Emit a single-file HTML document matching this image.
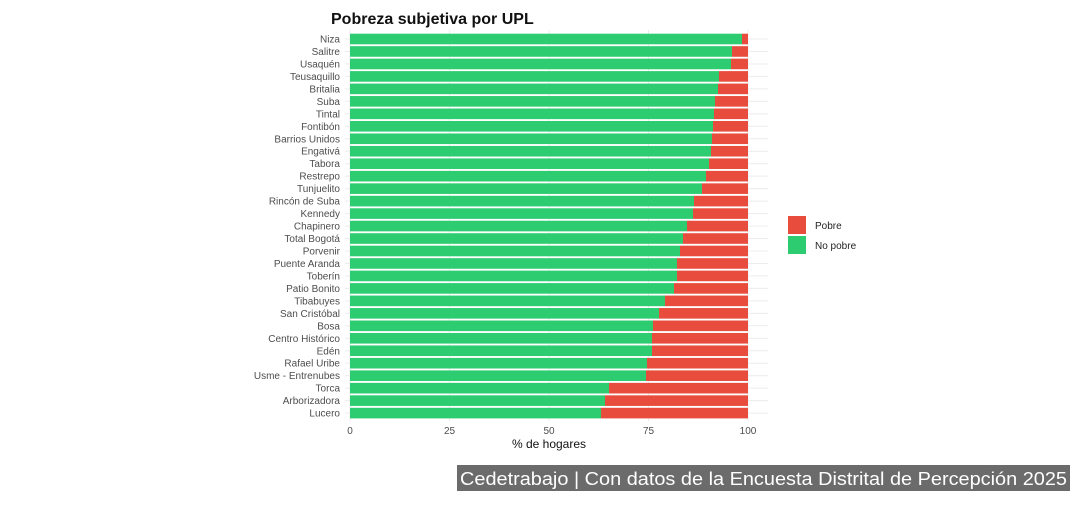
<!DOCTYPE html>
<html><head><meta charset="utf-8"><style>
body{margin:0;background:#fff;width:1080px;height:500px;overflow:hidden;font-family:"Liberation Sans",sans-serif}
</style></head><body>
<svg width="1080" height="500" xmlns="http://www.w3.org/2000/svg" font-family="Liberation Sans, sans-serif">
<text x="331" y="24" font-size="16" font-weight="bold" fill="#111">Pobreza subjetiva por UPL</text>
<g stroke="#ececec" stroke-width="1">
<line x1="350" y1="30" x2="350" y2="421"/><line x1="449.5" y1="30" x2="449.5" y2="421"/><line x1="549" y1="30" x2="549" y2="421"/><line x1="648.5" y1="30" x2="648.5" y2="421"/><line x1="748" y1="30" x2="748" y2="421"/>
</g>
<g id="bars"></g>
<g font-size="10" fill="#4d4d4d" text-anchor="middle">
<text x="350" y="434">0</text><text x="449.5" y="434">25</text><text x="549" y="434">50</text><text x="648.5" y="434">75</text><text x="748" y="434">100</text>
</g>
<text x="549" y="448" font-size="12" fill="#111" text-anchor="middle">% de hogares</text>
<rect x="788" y="216" width="18" height="18" fill="#e74c3c"/>
<rect x="788" y="236" width="18" height="18" fill="#2ecc71"/>
<text x="815" y="229" font-size="10" fill="#222">Pobre</text>
<text x="815" y="249" font-size="10" fill="#222">No pobre</text>
<rect x="457" y="465" width="613" height="26" fill="#6b6b6b"/>
<text x="460" y="485" font-size="18" fill="#fff" textLength="607" lengthAdjust="spacingAndGlyphs">Cedetrabajo | Con datos de la Encuesta Distrital de Percepción 2025</text>
</svg>
<script>
var d=[["Niza",742],["Salitre",732],["Usaquén",731],["Teusaquillo",719],["Britalia",718],["Suba",715],["Tintal",714],["Fontibón",713],["Barrios Unidos",712],["Engativá",711],["Tabora",709],["Restrepo",706],["Tunjuelito",702],["Rincón de Suba",694],["Kennedy",693],["Chapinero",687],["Total Bogotá",683],["Porvenir",680],["Puente Aranda",677],["Toberín",677],["Patio Bonito",674],["Tibabuyes",665],["San Cristóbal",659],["Bosa",653],["Centro Histórico",652],["Edén",652],["Rafael Uribe",647],["Usme - Entrenubes",646],["Torca",609],["Arborizadora",605],["Lucero",601]];
var s="";
d.forEach(function(r,i){var y=39+i*12.47;
s+='<line x1="345" x2="350" y1="'+y+'" y2="'+y+'" stroke="#ececec"/>';
s+='<line x1="748" x2="768" y1="'+y+'" y2="'+y+'" stroke="#ececec"/>';
s+='<rect x="350" y="'+(y-5.3)+'" width="'+(r[1]-350)+'" height="10.6" fill="#2ecc71"/>';
s+='<rect x="'+r[1]+'" y="'+(y-5.3)+'" width="'+(748-r[1])+'" height="10.6" fill="#e74c3c"/>';
s+='<text x="340" y="'+(y+3.5)+'" font-size="10" fill="#4d4d4d" text-anchor="end">'+r[0]+'</text>';});
document.getElementById("bars").innerHTML=s;
</script>
</body></html>
